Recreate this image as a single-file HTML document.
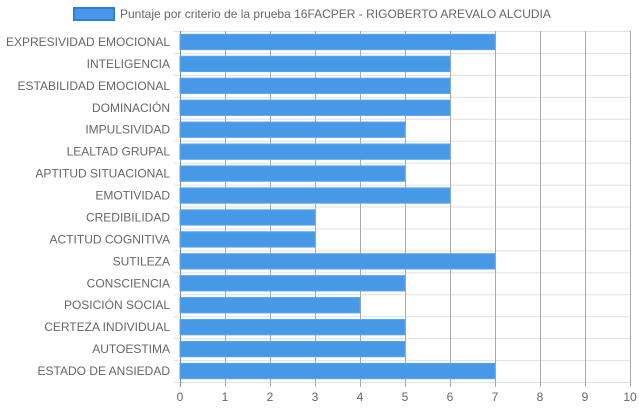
<!DOCTYPE html>
<html><head><meta charset="utf-8"><style>
body{margin:0;background:#fff;font-family:"Liberation Sans",sans-serif}
svg text{font-family:"Liberation Sans",sans-serif}
</style></head><body>
<svg id="c" width="639" height="411"></svg>
<script>
const categories=["EXPRESIVIDAD EMOCIONAL","INTELIGENCIA","ESTABILIDAD EMOCIONAL","DOMINACIÓN","IMPULSIVIDAD","LEALTAD GRUPAL","APTITUD SITUACIONAL","EMOTIVIDAD","CREDIBILIDAD","ACTITUD COGNITIVA","SUTILEZA","CONSCIENCIA","POSICIÓN SOCIAL","CERTEZA INDIVIDUAL","AUTOESTIMA","ESTADO DE ANSIEDAD"];
const values=[7,6,6,6,5,6,5,6,3,3,7,5,4,5,5,7];
const ticks=[0,1,2,3,4,5,6,7,8,9,10];
const seriesLabel="Puntaje por criterio de la prueba 16FACPER - RIGOBERTO AREVALO ALCUDIA";
const svg=document.getElementById('c');
const NS="http://www.w3.org/2000/svg";
const L=180,R=630,T=31,B=382;
const xs=v=>L+(v-ticks[0])/(ticks[ticks.length-1]-ticks[0])*(R-L);
const band=(B-T)/categories.length;
const ys=i=>T+i*band;
function mk(t,a){const e=document.createElementNS(NS,t);for(const k in a)e.setAttribute(k,a[k]);svg.appendChild(e);return e;}
// horizontal grid
for(let i=0;i<=categories.length;i++){
 const l=mk('line',{x1:174,x2:R,y1:ys(i)+0.5,y2:ys(i)+0.5,stroke:'#e0e0e0'});
 
 
}
// vertical grid & ticks
ticks.forEach(t=>{
 const x=Math.round(xs(t))+0.5;
 const l=mk('line',{x1:x,x2:x,y1:T,y2:B+5,stroke:t===0?'#888':'#aaa'});
 
 
 const tx=mk('text',{x:xs(t),y:401,'text-anchor':'middle','font-size':12,fill:'#666'});
 tx.textContent=t;
 
 
});
// bars
categories.forEach((c,i)=>{
 const bh=band*0.7;
 const y=ys(i)+(band-bh)/2;
 const r=mk('rect',{x:xs(0),y:y,width:xs(values[i])-xs(0),height:bh,fill:'#4898e8',stroke:'#5aa6f0','stroke-width':1});
 
 
 const tx=mk('text',{x:170,y:ys(i)+band/2+4,'text-anchor':'end','font-size':12,fill:'#666'});
 tx.textContent=c;
 
 
});
// legend
const lb=mk('rect',{x:74,y:8,width:40,height:12,fill:'#4898e8',stroke:'#2f7fd8','stroke-width':2});


const lt=mk('text',{x:120,y:18,'font-size':12,fill:'#666'});
lt.textContent=seriesLabel;


</script>
</body></html>
